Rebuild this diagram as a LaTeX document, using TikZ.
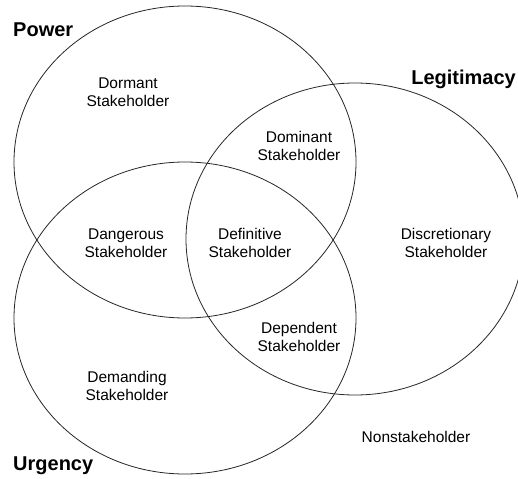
\documentclass[tikz,border=0pt]{standalone}
\usepackage{fontspec}
\setmainfont{Liberation Sans}
\tikzset{
  setline/.style={line width=0.8pt, black!85},
  region/.style={align=center, font=\fontsize{15.5}{18}\selectfont},
  setname/.style={font=\fontsize{20}{24}\selectfont\bfseries, inner sep=0pt}
}
\begin{document}
\begin{tikzpicture}[x=1pt, y=-1pt, line join=round, line cap=round]
\useasboundingbox (0,0) rectangle (518,478);
\def\rx{171pt} \def\ry{156pt} % ellipse radii
% the three sets
\draw[setline] (185,162) ellipse [x radius=\rx, y radius=\ry];
\draw[setline] (355,239) ellipse [x radius=169pt, y radius=\ry];
\draw[setline] (185,318) ellipse [x radius=\rx, y radius=\ry];
% set names
\node[setname, anchor=west] (power) at (13,30) {Power};
\node[setname, anchor=east] (legit) at (516,79) {Legitimacy};
\node[setname, anchor=west] (urgency) at (13,466) {Urgency};
% classes
\node[region] (dormant) at (128,92) {Dormant\\Stakeholder};
\node[region] (dominant) at (299,146) {Dominant\\Stakeholder};
\node[region] (dangerous) at (126,243) {Dangerous\\Stakeholder};
\node[region] (definitive) at (250,243) {Definitive\\Stakeholder};
\node[region] (discretionary) at (446,243) {Discretionary\\Stakeholder};
\node[region] (dependent) at (299,337) {Dependent\\Stakeholder};
\node[region] (demanding) at (127,386) {Demanding\\Stakeholder};
\node[region] (none) at (416,437) {Nonstakeholder};
\end{tikzpicture}
\end{document}
